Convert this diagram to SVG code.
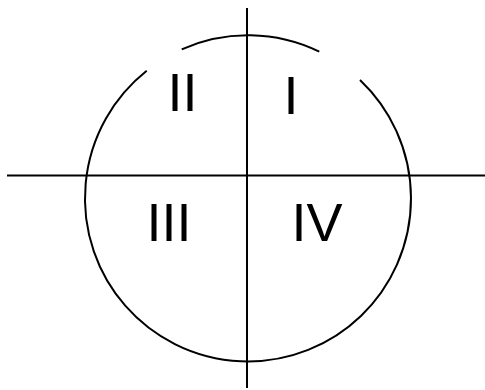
<svg xmlns="http://www.w3.org/2000/svg" width="485" height="390" viewBox="0 0 485 390">
<style>
.ln{stroke:#000;stroke-width:2;fill:none}
.lbl{font-family:"Liberation Sans",Arial,sans-serif;font-size:54px;fill:#000;text-anchor:middle}
</style>
<rect width="485" height="390" fill="#fff"/>
<g id="circle">
<path class="ln" d="M181.7 49.3 A163 163 0 0 1 319.3 51.7"/>
<path class="ln" d="M360 80 A163 163 0 1 1 146.7 70.7"/>
</g>
<g id="axes">
<line class="ln" x1="7" y1="175.5" x2="485" y2="175.5"/>
<line class="ln" x1="247" y1="8" x2="247" y2="388"/>
</g>
<g id="labels">
<text class="lbl" x="182.5" y="111">II</text>
<text class="lbl" x="291" y="113.7">I</text>
<text class="lbl" x="169" y="241">III</text>
<text class="lbl" x="317" y="241">IV</text>
</g>
</svg>
